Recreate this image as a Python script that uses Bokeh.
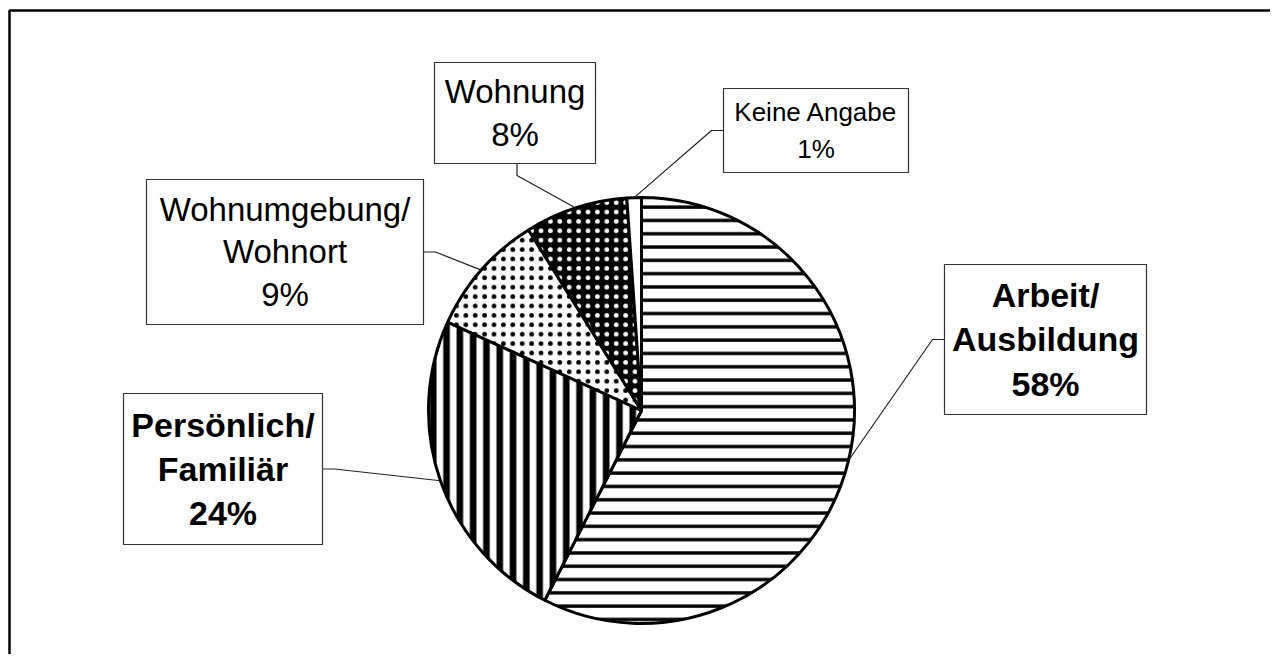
import math
from bokeh.plotting import figure
from bokeh.models import Range1d, ColumnDataSource, BoxAnnotation
from bokeh.embed import file_html
from bokeh.resources import INLINE
from bokeh.core.properties import value

# ---------------- data ----------------
categories = ["Arbeit/\nAusbildung", "Persönlich/\nFamiliär", "Wohnumgebung/\nWohnort", "Wohnung", "Keine Angabe"]
shares = [57.5, 24.3, 9.3, 7.8, 1.1]
pct_labels = ["58%", "24%", "9%", "8%", "1%"]

# ---------------- styles ----------------
fills = ["white", "white", "white", "black", "white"]
hatches = ["horizontal_line", "vertical_line", "dot", "dot", "blank"]
hatch_colors = ["black", "black", "black", "white", "black"]
hatch_scales = [13.3, 13.3, 9.4, 9.4, 10]
hatch_weights = [3.4, 6.6, 1.4, 1.2, 1]

font_sizes = ["34px", "34px", "33px", "33px", "26px"]
font_styles = ["bold", "bold", "normal", "normal", "normal"]
line_heights = [1.17, 1.17, 1.16, 1.16, 1.26]

# ---------------- layout ----------------
CX, CY, R = 641, 410, 213
box_cx = [1045, 222.5, 284.5, 514.5, 815.5]
box_cy = [339, 468.5, 251.5, 112.5, 130]
box_w = [202, 199, 277, 161, 185]
box_h = [150, 151, 145, 101, 84]
anchor_side = ["left", "right", "right", "bottom", "left"]
ELBOW = 12

W, H = 1270, 654
p = figure(width=W, height=H, output_backend="svg", toolbar_location=None,
           x_range=Range1d(0, W), y_range=Range1d(H, 0),
           min_border=0, x_axis_location=None, y_axis_location=None,
           outline_line_color=None, background_fill_color="white",
           border_fill_color="white")
p.xgrid.visible = False
p.ygrid.visible = False

# chart frame (only its left and top edges fall inside the window)
p.add_layout(BoxAnnotation(left=9, top=10, right=W + 20, bottom=H + 20,
                           fill_alpha=0, line_color="black", line_width=2.5,
                           line_alpha=1))

# wedges: start at 12 o'clock, clockwise
total = sum(shares)
starts, ends, mids = [], [], []
cum = 0.0
for s in shares:
    a0 = cum / total
    cum += s
    a1 = cum / total
    starts.append(math.pi / 2 - 2 * math.pi * a0)
    ends.append(math.pi / 2 - 2 * math.pi * a1)
    mids.append(2 * math.pi * (a0 + a1) / 2)  # clockwise from 12 o'clock

src = ColumnDataSource(dict(
    x=[CX] * len(shares), y=[CY] * len(shares),
    start=starts, end=ends, fill=fills, hatch=hatches, hcol=hatch_colors,
    hscale=hatch_scales, hweight=hatch_weights))
p.wedge(x="x", y="y", radius=R, start_angle="start", end_angle="end", direction="clock",
        source=src, fill_color="fill", hatch_pattern="hatch", hatch_color="hcol",
        hatch_scale="hscale", hatch_weight="hweight",
        line_color="black", line_width=3)

# leader lines
xs, ys = [], []
for i, m in enumerate(mids):
    px = CX + R * math.sin(m)
    py = CY - R * math.cos(m)
    side = anchor_side[i]
    if side == "left":
        ax, ay = box_cx[i] - box_w[i] / 2, box_cy[i]
        ex, ey = ax - ELBOW, ay
    elif side == "right":
        ax, ay = box_cx[i] + box_w[i] / 2, box_cy[i]
        ex, ey = ax + ELBOW, ay
    else:
        ax, ay = box_cx[i] + 2, box_cy[i] + box_h[i] / 2
        ex, ey = ax, ay + ELBOW
    xs.append([ax, ex, px])
    ys.append([ay, ey, py])
p.multi_line(xs=xs, ys=ys, line_color="#222222", line_width=1.2)

# label boxes
p.rect(x=box_cx, y=box_cy, width=box_w, height=box_h, fill_color="white",
       line_color="#333333", line_width=1.2)

texts = [c + "\n" + pc for c, pc in zip(categories, pct_labels)]
tsrc = ColumnDataSource(dict(x=box_cx, y=box_cy, text=texts, fs=font_sizes,
                             fst=font_styles, lh=line_heights))
p.text(x="x", y="y", text="text", source=tsrc, text_align="center", text_baseline="middle",
       text_font=value("Liberation Sans"), text_font_size="fs", text_font_style="fst",
       text_line_height="lh", text_color="black")

open("out.html", "w").write(file_html(p, INLINE))
